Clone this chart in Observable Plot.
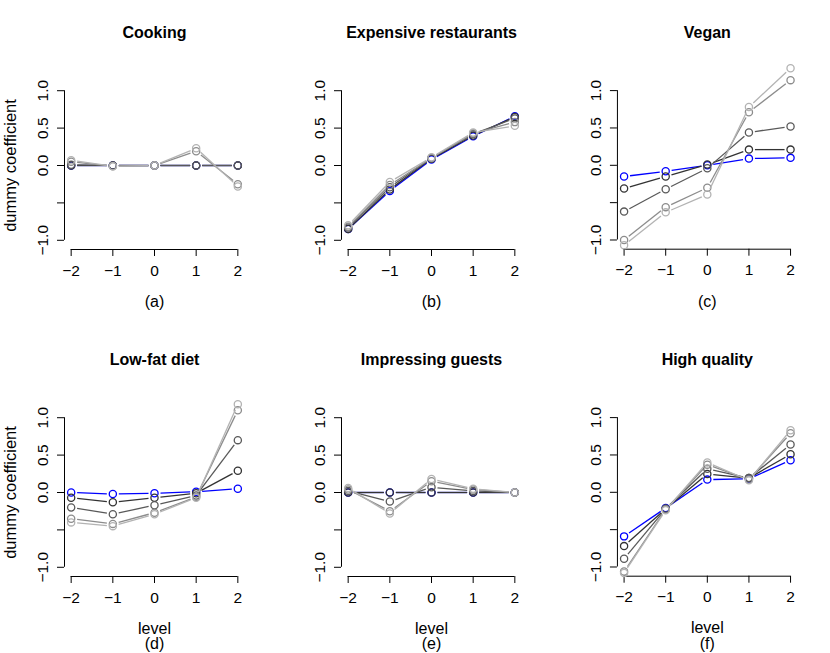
<!DOCTYPE html>
<html><head><meta charset="utf-8">
<script src="https://cdn.jsdelivr.net/npm/d3@7"></script>
<script src="https://cdn.jsdelivr.net/npm/@observablehq/plot@0.6"></script>
<style>
body{margin:0;background:#fff;}
#chart{position:relative;width:830px;height:653px;font-family:"Liberation Sans",Arial,Helvetica,sans-serif;}
.panel{position:absolute;}
</style></head><body><div id="chart"></div>
<script>
// ---- data ----
const panelTitles = ["Cooking","Expensive restaurants","Vegan","Low-fat diet","Impressing guests","High quality"];
const panelLetters = ["(a)","(b)","(c)","(d)","(e)","(f)"];
const levels = [-2,-1,0,1,2];
const xTickLabels = ["\u22122","\u22121","0","1","2"];
const yTicks = [-1,-0.5,0,0.5,1];
const yTickLabels = ["\u22121.0","","0.0","0.5","1.0"];
const yLimits = [-1.04, 1.04];
const seriesNames = ["s1","s2","s3","s4","s5"];
const xLabel = "level";
const yLabel = "dummy coefficient";

const cooking = [
 [0,0,0,0,0],
 [0,0,0,0,0],
 [0.01,0,0,0,0],
 [0.05,-0.01,0,0.19,-0.25],
 [0.07,-0.01,0,0.23,-0.28]];
const expensive = [
 [-0.85,-0.34,0.08,0.39,0.66],
 [-0.85,-0.32,0.09,0.40,0.65],
 [-0.83,-0.29,0.10,0.42,0.63],
 [-0.82,-0.26,0.10,0.43,0.58],
 [-0.80,-0.22,0.11,0.44,0.53]];
const vegan = [
 [-0.15,-0.08,0.00,0.09,0.10],
 [-0.31,-0.15,0.01,0.21,0.21],
 [-0.62,-0.32,-0.04,0.44,0.52],
 [-1.00,-0.56,-0.30,0.71,1.14],
 [-1.07,-0.63,-0.39,0.78,1.30]];
const lowfat = [
 [0.00,-0.02,-0.01,0.01,0.05],
 [-0.07,-0.13,-0.07,-0.01,0.29],
 [-0.20,-0.29,-0.17,-0.04,0.70],
 [-0.35,-0.42,-0.27,-0.06,1.10],
 [-0.40,-0.45,-0.29,-0.07,1.18]];
const guests = [
 [0,0,0,0,0],
 [0,0,0,0,0],
 [0.02,-0.12,0.07,0.02,0],
 [0.04,-0.25,0.15,0.04,0],
 [0.06,-0.28,0.18,0.05,0]];
const quality = [
 [-0.59,-0.21,0.17,0.18,0.43],
 [-0.72,-0.22,0.245,0.19,0.51],
 [-0.89,-0.22,0.315,0.19,0.64],
 [-1.06,-0.23,0.37,0.17,0.79],
 [-1.08,-0.24,0.40,0.16,0.83]];
const panelValues = [cooking, expensive, vegan, lowfat, guests, quality];

// ---- style ----
const seriesColors = ["#0000ff","#333333","#595959","#8c8c8c","#b3b3b3"];
const W = 830, H = 653, nCol = 3, nRow = 2;
const pw = W / nCol, ph = H / nRow;

function ext([lo, hi]) { const s = hi - lo; return [lo - 0.04 * s, hi + 0.04 * s]; }
const xDom = ext([levels[0], levels[levels.length - 1]]);
const yDom = ext(yLimits);

const chart = document.getElementById("chart");
panelValues.forEach((vals, p) => {
  const col = p % nCol, row = Math.floor(p / nCol);
  const marks = [];
  // axes
  marks.push(Plot.ruleX([xDom[0]], {y1: yTicks[0], y2: yTicks[yTicks.length - 1], stroke: "#000", strokeWidth: 1}));
  marks.push(Plot.axisY({ticks: yTicks, tickSize: 7, tickFormat: () => "", label: null, strokeWidth: 1}));
  marks.push(Plot.text(yTicks, {y: d => d, text: d => yTickLabels[yTicks.indexOf(d)], frameAnchor: "left", dx: -21.5, rotate: -90, fontSize: 15.5, textAnchor: "middle", lineAnchor: "middle", fill: "#000"}));
  marks.push(Plot.ruleY([yDom[0]], {x1: levels[0], x2: levels[levels.length - 1], stroke: "#000", strokeWidth: 1}));
  marks.push(Plot.axisX({ticks: levels, tickSize: 7, tickPadding: 8, tickFormat: d => xTickLabels[levels.indexOf(d)], fontSize: 15.5, label: null, strokeWidth: 1}));
  // text
  marks.push(Plot.text([panelTitles[p]], {frameAnchor: "top", dy: -48.3, lineAnchor: "middle", textAnchor: "middle", fontWeight: "bold", fontSize: 16, fill: "#000"}));
  marks.push(Plot.text([panelLetters[p]], {frameAnchor: "bottom", dy: row === nRow - 1 ? 67.5 : 52.7, lineAnchor: "middle", textAnchor: "middle", fontSize: 16, fill: "#000"}));
  if (row === nRow - 1) marks.push(Plot.text([xLabel], {frameAnchor: "bottom", dy: 52, lineAnchor: "middle", textAnchor: "middle", fontSize: 16, fill: "#000"}));
  if (col === 0) marks.push(Plot.text([yLabel], {frameAnchor: "left", dx: -54, rotate: -90, lineAnchor: "middle", textAnchor: "middle", fontSize: 16.5, fill: "#000"}));
  // series
  vals.forEach((arr, s) => {
    const pts = arr.map((v, i) => ({series: seriesNames[s], level: levels[i], value: v}));
    const segs = pts.slice(1).map((d, i) => ({series: d.series, x1: pts[i].level, y1: pts[i].value, x2: d.level, y2: d.value}));
    marks.push(Plot.arrow(segs, {x1: "x1", y1: "y1", x2: "x2", y2: "y2", stroke: "series", headLength: 0, bend: 0, inset: 6, strokeWidth: 1.3, strokeLinecap: "butt"}));
    marks.push(Plot.dot(pts, {x: "level", y: "value", stroke: "series", r: 3.6, strokeWidth: 1.3, fill: "none"}));
  });
  const svg = Plot.plot({
    width: Math.ceil(pw), height: Math.ceil(ph),
    marginLeft: 64, marginRight: Math.ceil(pw) - 64 - 180, marginTop: 81, marginBottom: Math.ceil(ph) - 81 - 168,
    x: {domain: xDom, axis: null},
    y: {domain: yDom, axis: null},
    color: {domain: seriesNames, range: seriesColors},
    style: {fontFamily: '"Liberation Sans",Arial,Helvetica,sans-serif', background: "transparent", overflow: "visible"},
    marks
  });
  const div = document.createElement("div");
  div.className = "panel";
  div.style.left = (col * pw) + "px";
  div.style.top = (row * ph) + "px";
  div.appendChild(svg);
  chart.appendChild(div);
});
</script></body></html>
